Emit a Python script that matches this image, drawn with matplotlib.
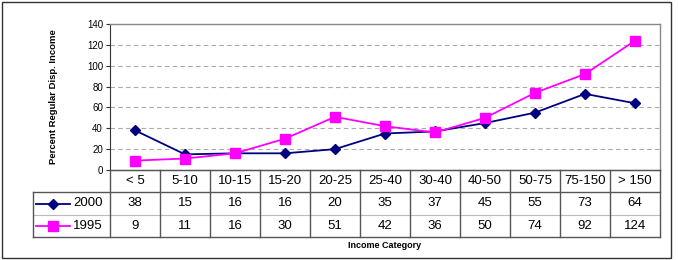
import matplotlib
matplotlib.use("Agg")
import matplotlib.pyplot as plt
from matplotlib.patches import Rectangle

plt.rcParams["font.family"] = ["Liberation Sans", "DejaVu Sans"]

# data
categories = ["< 5", "5-10", "10-15", "15-20", "20-25", "25-40", "30-40",
              "40-50", "50-75", "75-150", "> 150"]
vals_2000 = [38, 15, 16, 16, 20, 35, 37, 45, 55, 73, 64]
vals_1995 = [9, 11, 16, 30, 51, 42, 36, 50, 74, 92, 124]
series_names = ["2000", "1995"]
yticks = [0, 20, 40, 60, 80, 100, 120, 140]

W, H = 678, 260
fig = plt.figure(figsize=(W / 100, H / 100), dpi=100)


def fx(x):
    return x / W


def fy(y):
    return 1 - y / H


# outer border
fig.add_artist(Rectangle((fx(2), fy(258)), fx(669), (256) / H, fill=False,
                         edgecolor="#333333", linewidth=1.0,
                         transform=fig.transFigure))

# plot area (px: x 110..660, y 24..170)
left, right, top, bottom = 110, 660, 24, 170
ax = fig.add_axes([fx(left), fy(bottom), (right - left) / W, (bottom - top) / H])
x = list(range(len(categories)))
ax.plot(x, vals_2000, color="#000080", marker="D", markersize=5.5, linewidth=1.3,
        zorder=3)
ax.plot(x, vals_1995, color="#FF00FF", marker="s", markersize=6.5, linewidth=1.3,
        zorder=3)
ax.set_xlim(-0.5, len(categories) - 0.5)
ax.set_ylim(0, 140)
ax.set_yticks(yticks)
ax.set_xticks([])
ax.tick_params(axis="y", labelsize=7, length=3, width=0.8, pad=2, color="#333333")
for t in yticks[1:-1]:
    ax.axhline(t, color="#AAAAAA", linewidth=0.8, linestyle=(0, (4, 3)), zorder=1)
for s in ["top", "right"]:
    ax.spines[s].set_color("#888888")
    ax.spines[s].set_linewidth(1.0)
ax.spines["left"].set_color("#333333")
ax.spines["bottom"].set_color("#333333")
ax.set_ylabel("Percent Regular Disp. Income", fontsize=6.8, fontweight="bold",
              labelpad=21)

# data table (px: x 33..660, rows 170/192/215/237)
tab_left = 33
ax_t = fig.add_axes([fx(tab_left), fy(237), (right - tab_left) / W, (237 - 170) / H])
ax_t.set_xlim(-0.5 - (left - tab_left) / 50, len(categories) - 0.5)
ax_t.set_ylim(3, 0)
ax_t.axis("off")
lc = "#555555"
n = len(categories)
xl = -0.5 - (left - tab_left) / 50
# horizontal lines
ax_t.plot([-0.5, n - 0.5], [0, 0], color=lc, lw=1.0, clip_on=False)
ax_t.plot([xl, n - 0.5], [1, 1], color=lc, lw=1.0, clip_on=False)
ax_t.plot([xl, n - 0.5], [2, 2], color="#BBBBBB", lw=0.8, clip_on=False)
ax_t.plot([xl, n - 0.5], [3, 3], color=lc, lw=1.0, clip_on=False)
# vertical lines
for i in range(n + 1):
    ax_t.plot([i - 0.5, i - 0.5], [0, 3], color=lc, lw=1.0, clip_on=False)
ax_t.plot([xl, xl], [1, 3], color=lc, lw=1.0, clip_on=False)

for i, c in enumerate(categories):
    ax_t.text(i, 0.5, c, ha="center", va="center", fontsize=9.5)
for r, vals in enumerate([vals_2000, vals_1995]):
    for i, v in enumerate(vals):
        ax_t.text(i, 1.5 + r, str(v), ha="center", va="center", fontsize=9.5)

# legend keys in table
key_styles = [("#000080", "D", 5.5), ("#FF00FF", "s", 6.5)]
for r, (name, (col, mk, ms)) in enumerate(zip(series_names, key_styles)):
    yy = 1.5 + r
    ax_t.plot([xl + 0.06, xl + 0.74], [yy, yy], color=col, lw=1.3)
    ax_t.plot([xl + 0.4], [yy], color=col, marker=mk, markersize=ms)
    ax_t.text(xl + 0.8, yy, name, ha="left", va="center", fontsize=9.5)

fig.text(fx((left + right) / 2), fy(246), "Income Category", ha="center",
         va="center", fontsize=6.5, fontweight="bold")

fig.savefig("out.png", dpi=100)
